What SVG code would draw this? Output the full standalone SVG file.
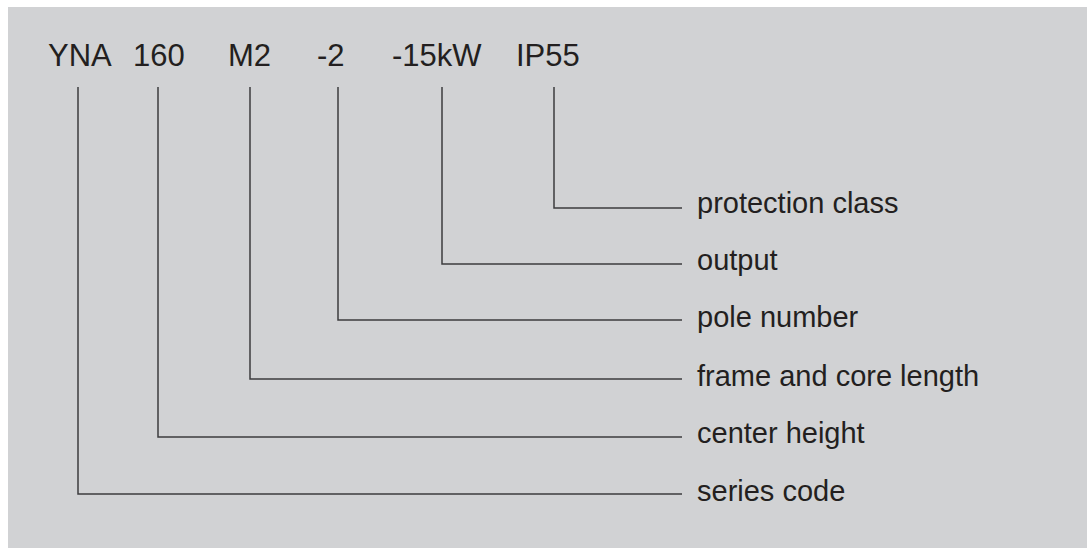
<svg xmlns="http://www.w3.org/2000/svg" width="1087" height="548" viewBox="0 0 1087 548">
<style>
.bg{fill:#d1d2d4}
.code{font-family:"Liberation Sans",Arial,sans-serif;font-size:31px;fill:#231f20}
.lbl{font-family:"Liberation Sans",Arial,sans-serif;font-size:29px;fill:#231f20}
.ln{fill:none;stroke:#3c3c3e;stroke-width:1.5}
</style>
<rect class="bg" x="8" y="7" width="1079" height="541"/>
<g id="codes">
<text id="c-yna" class="code" x="48" y="66">YNA</text>
<text id="c-160" class="code" x="133" y="66">160</text>
<text id="c-m2" class="code" x="228" y="66">M2</text>
<text id="c-pole" class="code" x="317" y="66">-2</text>
<text id="c-kw" class="code" x="392" y="66">-15kW</text>
<text id="c-ip" class="code" x="516" y="66">IP55</text>
</g>
<g id="connectors">
<polyline class="ln" points="554,87 554,208 682,208"/>
<polyline class="ln" points="442,87 442,264 682,264"/>
<polyline class="ln" points="338,87 338,320 682,320"/>
<polyline class="ln" points="250,87 250,379 682,379"/>
<polyline class="ln" points="158,87 158,437 682,437"/>
<polyline class="ln" points="78,87 78,494 682,494"/>
</g>
<g id="labels">
<text id="l-ip" class="lbl" x="697" y="213">protection class</text>
<text id="l-out" class="lbl" x="697" y="270">output</text>
<text id="l-pole" class="lbl" x="697" y="327">pole number</text>
<text id="l-frame" class="lbl" x="697" y="386">frame and core length</text>
<text id="l-center" class="lbl" x="697" y="443">center height</text>
<text id="l-series" class="lbl" x="697" y="501">series code</text>
</g>
</svg>
